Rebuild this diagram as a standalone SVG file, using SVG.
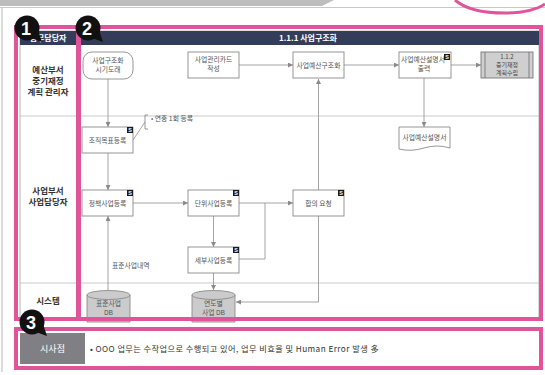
<svg xmlns="http://www.w3.org/2000/svg" width="545" height="375" viewBox="0 0 545 375">
<defs>
<style>
.t{font-family:"Noto Sans CJK KR","Noto Sans",sans-serif;}
.nd{fill:#fff;stroke:#8a8a8a;stroke-width:0.9;}
.nt{font-family:"Noto Sans CJK KR","Noto Sans",sans-serif;font-size:6.8px;fill:#555;text-anchor:middle;}
.ln{font-family:"Noto Sans CJK KR","Noto Sans",sans-serif;font-size:8.5px;font-weight:bold;fill:#333;text-anchor:middle;}
.c{fill:none;stroke:#9a9a9a;stroke-width:0.9;}
.pk{fill:none;stroke:#e0559a;stroke-width:4;}
.grid{stroke:#c4c4c4;stroke-width:0.9;fill:none;}
.db{fill:#cbcbcb;stroke:#8a8a8a;stroke-width:0.9;}
.si{fill:#1a1a1a;}
.sl{font-family:"Liberation Sans",sans-serif;font-size:5.5px;font-weight:bold;fill:#fff;text-anchor:middle;}
.bd{fill:#111;}
.bt{font-family:"Liberation Sans",sans-serif;font-size:18px;font-weight:bold;fill:#fff;text-anchor:middle;}
.pt{font-family:"Noto Sans CJK KR","Noto Sans",sans-serif;font-size:6px;fill:#444;text-anchor:middle;}
</style>
<marker id="ah" markerWidth="5" markerHeight="5" refX="5" refY="2.5" orient="auto" markerUnits="userSpaceOnUse">
<path d="M0,0 L5,2.5 L0,5 Z" fill="#8a8a8a"/>
</marker>
</defs>
<rect width="545" height="375" fill="#fff"/>
<!-- top decoration -->
<polygon points="0,0 334,0 322,6 0,6" fill="#bdbdbd"/>
<line x1="0" y1="7.5" x2="545" y2="7.5" stroke="#c8c8c8" stroke-width="1"/>
<line x1="2" y1="7" x2="2" y2="372" stroke="#cfcfcf" stroke-width="1.5"/>
<path d="M455,0 Q470,13 505,13 Q532,13 545,4" fill="none" stroke="#e0559a" stroke-width="3"/>

<!-- table -->
<g id="table">
<rect x="20" y="31" width="519" height="289" fill="#fff" stroke="#b5b5b5" stroke-width="1"/>
<rect x="20" y="31" width="519" height="14" fill="#333d5a"/>
<text class="t" x="48" y="41" font-size="8" font-weight="bold" fill="#fff" text-anchor="middle">업무담당자</text>
<text class="t" x="308" y="41" font-size="8" font-weight="bold" fill="#fff" text-anchor="middle">1.1.1 사업구조화</text>
<line class="grid" x1="20" y1="116" x2="539" y2="116"/>
<line class="grid" x1="20" y1="283" x2="539" y2="283"/>
<line class="grid" x1="77" y1="45" x2="77" y2="320"/>
<text class="ln" x="48" y="73">예산부서</text>
<text class="ln" x="48" y="84">중기재정</text>
<text class="ln" x="48" y="95">계획 관리자</text>
<text class="ln" x="48" y="194">사업부서</text>
<text class="ln" x="48" y="205">사업담당자</text>
<text class="ln" x="48" y="304">시스템</text>
</g>

<!-- connectors -->
<g id="connectors">
<line class="c" x1="108" y1="79" x2="108" y2="127" marker-end="url(#ah)"/>
<line class="c" x1="108" y1="153" x2="108" y2="190" marker-end="url(#ah)"/>
<line class="c" x1="108" y1="291" x2="108" y2="216" marker-end="url(#ah)"/>
<line class="c" x1="133" y1="203" x2="188" y2="203" marker-end="url(#ah)"/>
<line class="c" x1="213.5" y1="216" x2="213.5" y2="247" marker-end="url(#ah)"/>
<line class="c" x1="239" y1="203" x2="293" y2="203" marker-end="url(#ah)"/>
<polyline class="c" points="239,259 265,259 265,203"/>
<line class="c" x1="213.5" y1="273" x2="213.5" y2="290" marker-end="url(#ah)"/>
<line class="c" x1="318.5" y1="190" x2="318.5" y2="79" marker-end="url(#ah)"/>
<polyline class="c" points="318.5,216 318.5,302 236,302" marker-end="url(#ah)"/>
<line class="c" x1="239" y1="65" x2="293" y2="65" marker-end="url(#ah)"/>
<line class="c" x1="344" y1="65" x2="399" y2="65" marker-end="url(#ah)"/>
<line class="c" x1="451" y1="65" x2="481" y2="65" marker-end="url(#ah)"/>
<line class="c" x1="424" y1="78" x2="424" y2="127" marker-end="url(#ah)"/>
<polyline class="c" points="133,140 145,122"/>
<text class="t" x="112" y="268" font-size="6.8" fill="#555">표준사업내역</text>
</g>

<!-- nodes -->
<g id="n-start">
<rect class="nd" x="83" y="52" width="50" height="27" rx="9"/>
<text class="nt" x="108" y="63">사업구조화</text>
<text class="nt" x="108" y="72">시기도래</text>
</g>
<g id="n-card">
<rect class="nd" x="188" y="52" width="51" height="26"/>
<text class="nt" x="213.5" y="62">사업관리카드</text>
<text class="nt" x="213.5" y="71">작성</text>
</g>
<g id="n-struct">
<rect class="nd" x="293" y="52" width="51" height="26"/>
<text class="nt" x="318.5" y="67.5">사업예산구조화</text>
</g>
<g id="n-print">
<rect class="nd" x="399" y="52" width="52" height="26"/>
<text class="nt" x="423" y="62">사업예산설명서</text>
<text class="nt" x="424" y="71">출력</text>
<rect class="si" x="444" y="54" width="6" height="6"/><text class="sl" x="447" y="59">S</text>
</g>
<g id="n-plan">
<rect x="481" y="52" width="52" height="26" fill="#cfcfcf" stroke="#777" stroke-width="0.9"/>
<line x1="485" y1="52" x2="485" y2="78" stroke="#777" stroke-width="0.9"/>
<line x1="529" y1="52" x2="529" y2="78" stroke="#777" stroke-width="0.9"/>
<text class="pt" x="507" y="58.5">1.1.2</text>
<text class="pt" x="507" y="66.5">중기재정</text>
<text class="pt" x="507" y="74.5">계획수립</text>
</g>
<g id="n-org">
<rect class="nd" x="82" y="127" width="51" height="26"/>
<text class="nt" x="107.5" y="142.5">조직목표등록</text>
<rect class="si" x="127" y="127" width="6" height="6"/><text class="sl" x="130" y="132">S</text>
</g>
<g id="n-note">
<polyline points="148,115 145,115 145,129 148,129" fill="none" stroke="#8a8a8a" stroke-width="0.9"/>
<text class="t" x="151" y="121" font-size="6.8" fill="#555">• 연중 1회 등록</text>
</g>
<g id="n-doc">
<path class="nd" d="M399,127 H450 V148 Q437,144 424,148 Q411,152 399,149 Z"/>
<text class="nt" x="424.5" y="140">사업예산설명서</text>
</g>
<g id="n-policy">
<rect class="nd" x="82" y="190" width="51" height="26"/>
<text class="nt" x="107.5" y="205.5">정책사업등록</text>
<rect class="si" x="127" y="190" width="6" height="6"/><text class="sl" x="130" y="195">S</text>
</g>
<g id="n-unit">
<rect class="nd" x="188" y="190" width="51" height="26"/>
<text class="nt" x="213.5" y="205.5">단위사업등록</text>
<rect class="si" x="233" y="190" width="6" height="6"/><text class="sl" x="236" y="195">S</text>
</g>
<g id="n-agree">
<rect class="nd" x="293" y="190" width="51" height="26"/>
<text class="nt" x="318.5" y="205.5">합의 요청</text>
<rect class="si" x="338" y="190" width="6" height="6"/><text class="sl" x="341" y="195">S</text>
</g>
<g id="n-detail">
<rect class="nd" x="188" y="247" width="51" height="26"/>
<text class="nt" x="213.5" y="262.5">세부사업등록</text>
<rect class="si" x="233" y="247" width="6" height="6"/><text class="sl" x="236" y="252">S</text>
</g>
<g id="n-stddb">
<path class="db" d="M87,295 A21.5,4.5 0 0 1 130,295 V322 H87 Z"/>
<path d="M87,295 A21.5,4.5 0 0 0 130,295" fill="none" stroke="#8a8a8a" stroke-width="0.9"/>
<text class="nt" x="108.5" y="306">표준사업</text>
<text class="nt" x="108.5" y="315">DB</text>
</g>
<g id="n-yeardb">
<path class="db" d="M192,295 A21.5,4.5 0 0 1 235,295 V322 H192 Z"/>
<path d="M192,295 A21.5,4.5 0 0 0 235,295" fill="none" stroke="#8a8a8a" stroke-width="0.9"/>
<text class="nt" x="213.5" y="306">연도별</text>
<text class="nt" x="213.5" y="315">사업 DB</text>
</g>

<!-- insight row -->
<g id="insight">
<rect x="20" y="333" width="519" height="31" fill="#fff"/>
<rect x="20" y="333" width="65" height="31" fill="#7f7f84"/>
<text class="t" x="52.5" y="352" font-size="9" fill="#fff" text-anchor="middle">시사점</text>
<text class="t" x="90" y="352" font-size="8.2" letter-spacing="0.45" fill="#333">•  OOO 업무는 수작업으로 수행되고 있어, 업무 비효율 및 Human Error 발생 多</text>
</g>

<!-- highlight boxes -->
<g id="highlights">
<rect class="pk" x="16" y="27" width="62" height="292"/>
<rect class="pk" x="79" y="27" width="462" height="292"/>
<rect class="pk" x="16" y="329" width="525" height="39"/>
</g>

<!-- badges -->
<g id="badge1">
<circle class="bd" cx="27" cy="28" r="12.5"/>
<polygon class="bd" points="31,38 42,42 38,30"/>
<text class="bt" x="26" y="34.5">1</text>
</g>
<g id="badge2">
<circle class="bd" cx="88" cy="28" r="12.5"/>
<polygon class="bd" points="92,38 103,42 99,30"/>
<text class="bt" x="87" y="34.5">2</text>
</g>
<g id="badge3">
<circle class="bd" cx="32" cy="322" r="12.5"/>
<polygon class="bd" points="36,332 47,336 43,324"/>
<text class="bt" x="31" y="328.5">3</text>
</g>
</svg>
